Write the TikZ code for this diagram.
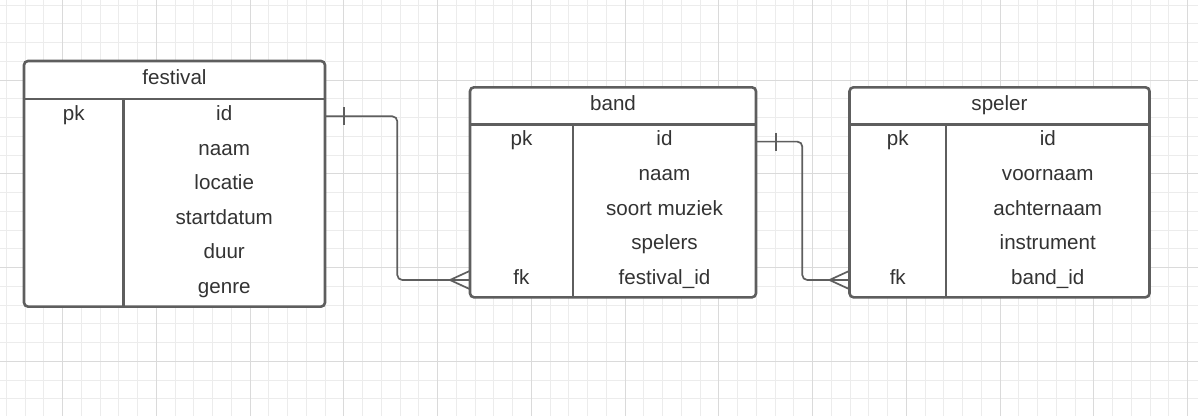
\documentclass[tikz,border=0pt]{standalone}
\usepackage{fontspec}
\setmainfont{Liberation Sans}
\usetikzlibrary{calc}
\definecolor{linec}{HTML}{5E5E5E}
\definecolor{textc}{HTML}{333333}
\definecolor{minorg}{HTML}{ECECEC}
\definecolor{majorg}{HTML}{DADADA}
\tikzset{
  minorgrid/.style={draw=minorg, line width=1pt},
  majorgrid/.style={draw=majorg, line width=1pt},
  tbl/.style={draw=linec, line width=2.6pt, rounded corners=4pt, fill=white, inner sep=0pt, outer sep=0pt},
  cell/.style={inner sep=0pt, outer sep=0pt, minimum height=34.6pt, text=textc,
     font=\fontsize{20.6}{24}\selectfont, text height=12.4pt, text depth=4pt},
  headcell/.style={cell, minimum height=37pt},
  inner/.style={draw=linec, line width=2.6pt},
  conn/.style={draw=linec, line width=1.7pt, rounded corners=5pt},
  crow/.style={draw=linec, line width=1.7pt},
}
\begin{document}
\begin{tikzpicture}[x=1pt,y=-1pt]
\useasboundingbox (0,0) rectangle (1198,416);
\fill[white] (0,0) rectangle (1198,416);
% grid
\foreach \i in {0,...,63} \draw[minorgrid] ({6.25+18.75*\i},0) -- ({6.25+18.75*\i},416);
\foreach \j in {0,...,21} \draw[minorgrid] (0,{5+18.75*\j}) -- (1198,{5+18.75*\j});
\foreach \i in {0,...,12} \draw[majorgrid] ({62.5+93.75*\i},0) -- ({62.5+93.75*\i},416);
\foreach \j in {0,...,3} \draw[majorgrid] (0,{80+93.75*\j}) -- (1198,{80+93.75*\j});

% ---------- festival ----------
\node[tbl, minimum width=301pt, minimum height=245.6pt] (festival) at (174.5,183.8) {};
\node[headcell, minimum width=301pt, minimum height=38pt] (fh) at (174.5,80) {festival};
\foreach \n/\y/\k/\v in {1/116.3/pk/id, 2/150.9//naam, 3/185.5//locatie, 4/220.1//startdatum, 5/254.7//duur, 6/289.3//genre}{
  \node[cell, minimum width=99.5pt] (fk\n) at (73.75,\y) {\k};
  \node[cell, minimum width=201.5pt] (fn\n) at (224.25,\y) {\v};
}
\draw[inner] (fk1.north west) -- (fn1.north east);
\draw[inner] (fk1.north east) -- (fk6.south east);

% ---------- band ----------
\node[tbl, minimum width=286pt, minimum height=210pt] (band) at (613,192.3) {};
\node[headcell, minimum width=286pt] (bh) at (613,105.8) {band};
\foreach \n/\y/\k/\v in {1/141.6/pk/id, 2/176.2//naam, 3/210.8//soort muziek, 4/245.4//spelers, 5/280.0/fk/festival\_id}{
  \node[cell, minimum width=103pt] (bk\n) at (521.5,\y) {\k};
  \node[cell, minimum width=183pt] (bn\n) at (664.5,\y) {\v};
}
\draw[inner] (bk1.north west) -- (bn1.north east);
\draw[inner] (bk1.north east) -- (bk5.south east);

% ---------- speler ----------
\node[tbl, minimum width=300pt, minimum height=210pt] (speler) at (999.5,192.3) {};
\node[headcell, minimum width=300pt] (sh) at (999.5,105.8) {speler};
\foreach \n/\y/\k/\v in {1/141.6/pk/id, 2/176.2//voornaam, 3/210.8//achternaam, 4/245.4//instrument, 5/280.0/fk/band\_id}{
  \node[cell, minimum width=96.5pt] (sk\n) at (897.75,\y) {\k};
  \node[cell, minimum width=203.5pt] (sn\n) at (1047.75,\y) {\v};
}
\draw[inner] (sk1.north west) -- (sn1.north east);
\draw[inner] (sk1.north east) -- (sk5.south east);

% ---------- connectors ----------
% festival -> band
\draw[conn] (fn1.east) -- ++(72.3,0) |- (bk5.west);
\draw[crow] ($(fn1.east)+(19.3,-9)$) -- ($(fn1.east)+(19.3,9)$);
\coordinate (cf1) at ($(bk5.west)+(-20,0)$);
\draw[crow] ($(bk5.west)+(0,-9.2)$) -- (cf1) -- ($(bk5.west)+(0,9.2)$);
% band -> speler
\draw[conn] (bn1.east) -- ++(46.3,0) |- (sk5.west);
\draw[crow] ($(bn1.east)+(20,-9)$) -- ($(bn1.east)+(20,9)$);
\coordinate (cf2) at ($(sk5.west)+(-20,0)$);
\draw[crow] ($(sk5.west)+(0,-9.2)$) -- (cf2) -- ($(sk5.west)+(0,9.2)$);
\end{tikzpicture}
\end{document}
